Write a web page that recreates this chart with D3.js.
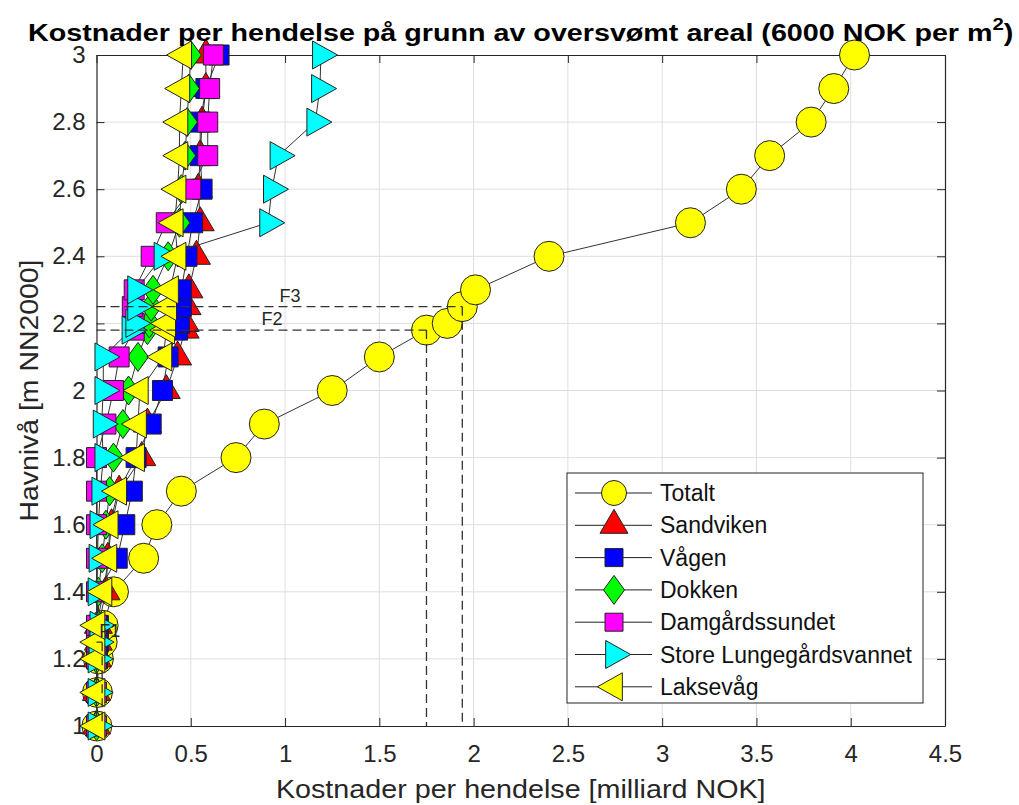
<!DOCTYPE html>
<html>
<head>
<meta charset="utf-8">
<script src="https://cdn.jsdelivr.net/npm/d3@7"></script>
<style>
  body { margin: 0; background: #fff; }
  text { font-family: "Liberation Sans", Arial, Helvetica, sans-serif; }
</style>
</head>
<body>
<svg id="chart" width="1019" height="805"></svg>
<script>
// sea level steps (m NN2000)
const levels = [1.0, 1.1, 1.2, 1.25, 1.3, 1.4, 1.5, 1.6, 1.7, 1.8, 1.9, 2.0, 2.1, 2.18, 2.2, 2.25, 2.3, 2.4, 2.5, 2.6, 2.7, 2.8, 2.9, 3.0];

// cost per event, milliard NOK
const totalt       = [0.002, 0.005, 0.01, 0.03, 0.035, 0.09, 0.25, 0.32, 0.45, 0.74, 0.89, 1.25, 1.50, 1.75, 1.86, 1.94, 2.01, 2.40, 3.15, 3.42, 3.57, 3.79, 3.91, 4.02];
const sandviken    = [0.0, 0.0, 0.005, 0.01, 0.01, 0.05, 0.06, 0.08, 0.12, 0.24, 0.27, 0.37, 0.43, 0.47, 0.47, 0.48, 0.49, 0.53, 0.55, 0.54, 0.55, 0.56, 0.58, 0.58];
const vagen        = [0.0, 0.0, 0.005, 0.01, 0.01, 0.01, 0.11, 0.15, 0.19, 0.21, 0.29, 0.35, 0.38, 0.43, 0.44, 0.45, 0.45, 0.48, 0.51, 0.56, 0.55, 0.55, 0.58, 0.65];
const dokken       = [0.0, 0.0, 0.0, 0.005, 0.01, 0.01, 0.03, 0.05, 0.07, 0.09, 0.14, 0.17, 0.22, 0.27, 0.28, 0.29, 0.30, 0.38, 0.44, 0.45, 0.47, 0.48, 0.49, 0.50];
const damgard      = [0.0, 0.0, 0.0, 0.0, 0.0, 0.0, 0.0, 0.0, 0.0, 0.0, 0.05, 0.09, 0.12, 0.20, 0.20, 0.19, 0.20, 0.29, 0.37, 0.50, 0.59, 0.59, 0.60, 0.62];
const lungegard    = [0.0, 0.0, 0.0, 0.005, 0.01, 0.0, 0.005, 0.01, 0.02, 0.036, 0.027, 0.036, 0.036, 0.18, 0.20, 0.21, 0.21, 0.35, 0.91, 0.93, 0.965, 1.16, 1.185, 1.19];
const laksevag     = [0.0, 0.0, 0.0, 0.0, 0.0, 0.037, 0.063, 0.07, 0.115, 0.21, 0.22, 0.23, 0.355, 0.37, 0.375, 0.38, 0.39, 0.43, 0.415, 0.43, 0.44, 0.44, 0.45, 0.46];

const seriesNames   = ["Totalt", "Sandviken", "Vågen", "Dokken", "Damgårdssundet", "Store Lungegårdsvannet", "Laksevåg"];
const seriesValues  = [totalt, sandviken, vagen, dokken, damgard, lungegard, laksevag];
const seriesColors  = ["#ffff00", "#ff0000", "#0000ff", "#00ff00", "#ff00ff", "#00ffff", "#ffff00"];
const seriesSymbols = ["circle", "up", "square", "diamond", "square", "right", "left"];

const xTicks = [0, 0.5, 1, 1.5, 2, 2.5, 3, 3.5, 4, 4.5];
const yTicks = [1, 1.2, 1.4, 1.6, 1.8, 2, 2.2, 2.4, 2.6, 2.8, 3];

// flood reference levels
const floodNames  = ["F1", "F2", "F3"];
const floodLevels = [1.25, 2.18, 2.25];
const floodCosts  = [0.03, 1.75, 1.94];

const margin = {left: 96.5, right: 74, top: 55, bottom: 79};
const width = 1019, height = 805;

const svg = d3.select("#chart");

const x = d3.scaleLinear().domain([0, 4.5]).range([margin.left, width - margin.right]);
const y = d3.scaleLinear().domain([1, 3]).range([height - margin.bottom, margin.top]);

// marker outline, triangles placed on their centroid like matlab does
function markerPath(sym, big) {
    if (sym === "circle") {
        let r = big ? 15 : 12.5;
        return "M" + (-r) + ",0A" + r + "," + r + " 0 1,0 " + r + ",0A" + r + "," + r + " 0 1,0 " + (-r) + ",0Z";
    }
    if (sym === "square") {
        let s = big ? 10 : 9;
        return "M" + (-s) + "," + (-s) + "H" + s + "V" + s + "H" + (-s) + "Z";
    }
    if (sym === "diamond") {
        return "M0,-14.5L10.5,0L0,14.5L-10.5,0Z";
    }
    if (sym === "up") {
        let w = 28, h = 24;
        return "M0," + (-2 * h / 3) + "L" + (w / 2) + "," + (h / 3) + "L" + (-w / 2) + "," + (h / 3) + "Z";
    }
    let w = 25, h = 28;
    if (sym === "left") {
        return "M" + (-2 * w / 3) + ",0L" + (w / 3) + "," + (-h / 2) + "L" + (w / 3) + "," + (h / 2) + "Z";
    }
    return "M" + (2 * w / 3) + ",0L" + (-w / 3) + "," + (-h / 2) + "L" + (-w / 3) + "," + (h / 2) + "Z";
}

// squeeze/stretch a text horizontally so it spans the width seen in the figure
function stretchX(sel, target, cx) {
    let w = sel.node().getBBox().width;
    let k = target / w;
    let old = sel.attr("transform") || "";
    sel.attr("transform", "translate(" + cx + ",0) scale(" + k + ",1) translate(" + (-cx) + ",0) " + old);
}

// grid
let grid = svg.append("g");
grid.selectAll(".gx").data(xTicks.slice(1, -1)).enter().append("line")
    .attr("x1", d => x(d)).attr("x2", d => x(d))
    .attr("y1", y(1)).attr("y2", y(3))
    .attr("stroke", "#dfdfdf").attr("stroke-width", 1);
grid.selectAll(".gy").data(yTicks.slice(1, -1)).enter().append("line")
    .attr("y1", d => y(d)).attr("y2", d => y(d))
    .attr("x1", x(0)).attr("x2", x(4.5))
    .attr("stroke", "#dfdfdf").attr("stroke-width", 1);

// axes, ticks inside, mirrored on top and right
let axisColor = "#262626";
svg.append("g").attr("transform", "translate(0," + y(1) + ")")
    .call(d3.axisBottom(x).tickValues(xTicks).tickSizeInner(-8).tickSizeOuter(0).tickPadding(19).tickFormat(d3.format("~g")));
svg.append("g").attr("transform", "translate(0," + y(3) + ")")
    .call(d3.axisTop(x).tickValues(xTicks).tickSizeInner(-8).tickSizeOuter(0).tickFormat(""));
svg.append("g").attr("transform", "translate(" + x(0) + ",0)")
    .call(d3.axisLeft(y).tickValues(yTicks).tickSizeInner(-8).tickSizeOuter(0).tickPadding(11).tickFormat(d3.format("~g")));
svg.append("g").attr("transform", "translate(" + x(4.5) + ",0)")
    .call(d3.axisRight(y).tickValues(yTicks).tickSizeInner(-8).tickSizeOuter(0).tickFormat(""));

svg.selectAll(".domain").attr("stroke", axisColor).attr("stroke-width", 1.2);
svg.selectAll(".tick line").attr("stroke", axisColor).attr("stroke-width", 1);
svg.selectAll(".tick text").attr("fill", axisColor).style("font-size", "24px")
    .style("font-family", "'Liberation Sans', Arial, sans-serif");

// series, each line then its markers, later series on top
let line = d3.line().x(d => x(d[0])).y(d => y(d[1]));

for (let i = 0; i < seriesNames.length; i++) {
    let pts = seriesValues[i].map((v, j) => [v, levels[j]]);
    let g = svg.append("g").attr("class", "series" + i);

    g.append("path")
        .attr("d", line(pts))
        .attr("fill", "none")
        .attr("stroke", "#333")
        .attr("stroke-width", 1);

    g.selectAll("path.m").data(pts).enter().append("path")
        .attr("class", "m")
        .attr("d", markerPath(seriesSymbols[i], true))
        .attr("transform", d => "translate(" + x(d[0]) + "," + y(d[1]) + ")")
        .attr("fill", seriesColors[i])
        .attr("stroke", "#222")
        .attr("stroke-width", 1);
}

// flood level markers
for (let i = 0; i < floodNames.length; i++) {
    svg.append("line")
        .attr("x1", x(0)).attr("x2", x(floodCosts[i]))
        .attr("y1", y(floodLevels[i])).attr("y2", y(floodLevels[i]))
        .attr("stroke", "#333").attr("stroke-width", 1.3).attr("stroke-dasharray", "9,5");
    svg.append("line")
        .attr("x1", x(floodCosts[i])).attr("x2", x(floodCosts[i]))
        .attr("y1", y(floodLevels[i])).attr("y2", y(1))
        .attr("stroke", "#333").attr("stroke-width", 1.3).attr("stroke-dasharray", "9,5");
    svg.append("text")
        .attr("x", x(floodCosts[i] / 2))
        .attr("y", y(floodLevels[i]) - 5)
        .attr("fill", axisColor)
        .style("font-size", "18px")
        .text(floodNames[i]);
}

// legend
let lg = svg.append("g").attr("transform", "translate(567,473)");
lg.append("rect").attr("width", 356).attr("height", 230)
    .attr("fill", "#fff").attr("stroke", axisColor).attr("stroke-width", 1);

for (let i = 0; i < seriesNames.length; i++) {
    let cy = 20 + i * 32.3;
    lg.append("line").attr("x1", 8).attr("x2", 85).attr("y1", cy).attr("y2", cy)
        .attr("stroke", "#222").attr("stroke-width", 1);
    lg.append("path").attr("d", markerPath(seriesSymbols[i], false))
        .attr("transform", "translate(47," + cy + ")")
        .attr("fill", seriesColors[i]).attr("stroke", "#222").attr("stroke-width", 1);
    lg.append("text").attr("x", 93).attr("y", cy + 8)
        .style("font-size", "23px").attr("fill", "#111")
        .text(seriesNames[i]);
}

// titles
let cx = (x(0) + x(4.5)) / 2;
let title = svg.append("text")
    .attr("x", cx).attr("y", 41)
    .attr("text-anchor", "middle")
    .style("font-size", "24px").style("font-weight", "bold").attr("fill", "#000");
title.append("tspan").text("Kostnader per hendelse på grunn av oversvømt areal (6000 NOK per m");
title.append("tspan").attr("dy", -11).style("font-size", "17px").text("2");
title.append("tspan").attr("dy", 11).text(")");
stretchX(title, 986, cx);

let xLabel = svg.append("text")
    .attr("x", cx).attr("y", 798)
    .attr("text-anchor", "middle")
    .style("font-size", "26px").attr("fill", axisColor)
    .text("Kostnader per hendelse [milliard NOK]");
stretchX(xLabel, 490, cx);

svg.append("text")
    .attr("transform", "translate(38," + ((y(1) + y(3)) / 2) + ") rotate(-90)")
    .attr("text-anchor", "middle")
    .attr("textLength", 262).attr("lengthAdjust", "spacingAndGlyphs")
    .style("font-size", "26px").attr("fill", axisColor)
    .text("Havnivå [m NN2000]");
</script>
</body>
</html>
